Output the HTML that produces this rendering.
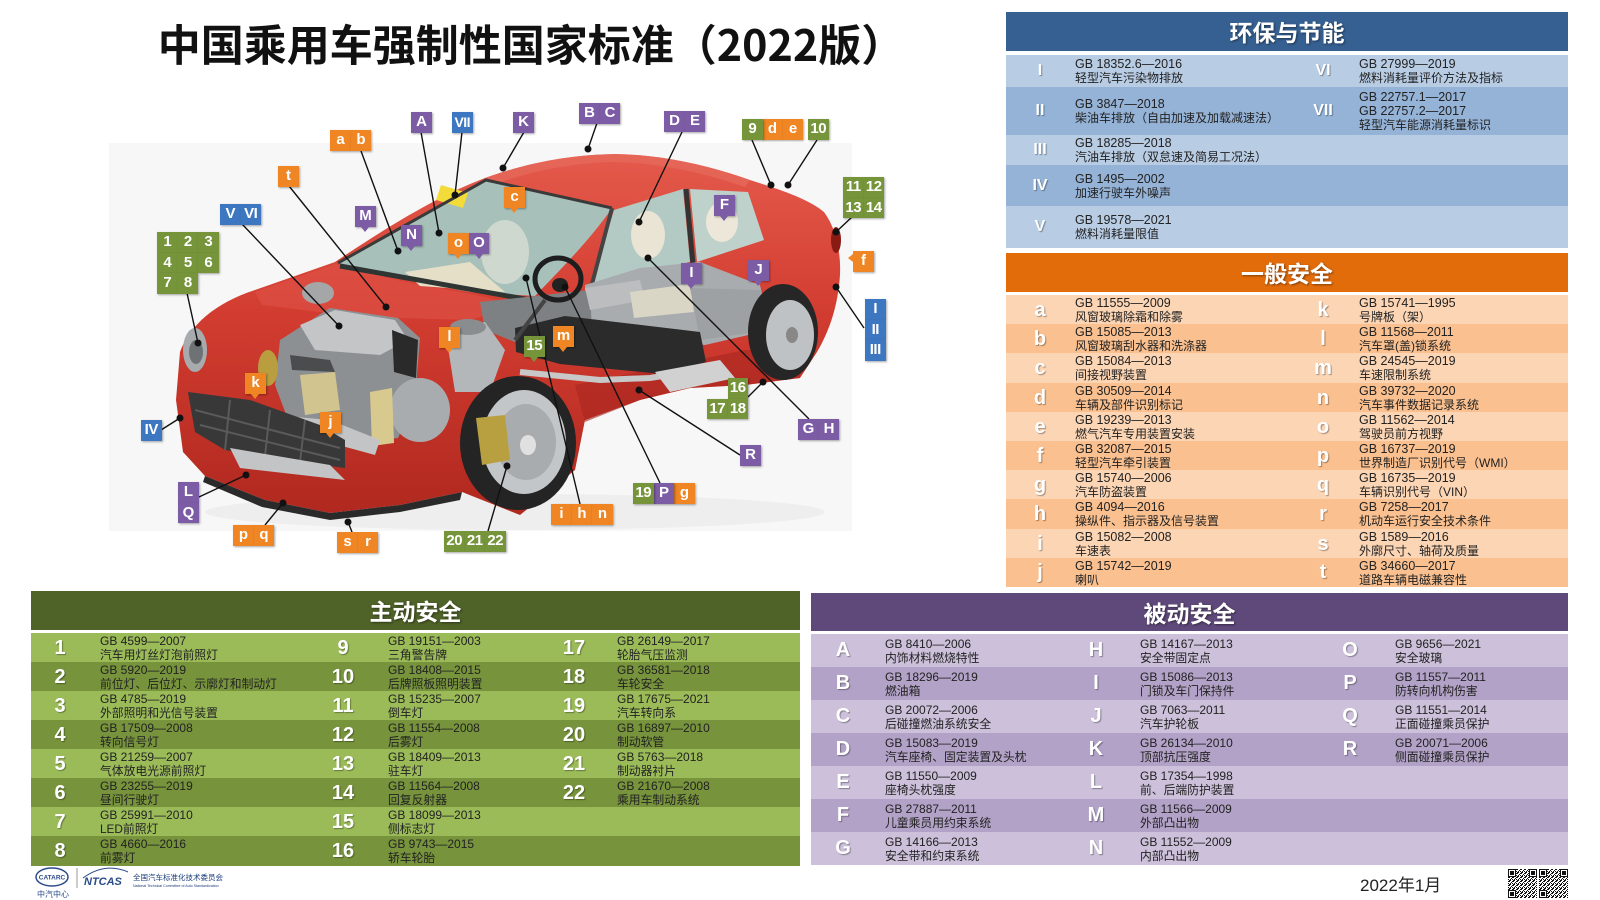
<!DOCTYPE html>
<html><head><meta charset="utf-8">
<style>
*{margin:0;padding:0;box-sizing:border-box}
body{width:1600px;height:900px;background:#fff;position:relative;overflow:hidden;font-family:"Liberation Sans","Noto Sans CJK SC",sans-serif}
.title{position:absolute;left:8px;top:18px;width:1046px;text-align:center;font:bold 43px/50px "Noto Sans CJK SC",sans-serif;color:#111;white-space:nowrap}
.pn{position:absolute}
.hd{position:absolute;left:0;width:100%;color:#fff;font:bold 23px/1 "Noto Sans CJK SC",sans-serif;display:flex;align-items:center;justify-content:center;text-shadow:1px 1px 2px rgba(0,0,0,.45)}
.r{position:absolute;left:0;width:100%}
.k{position:absolute;top:0;bottom:0;width:50px;display:flex;align-items:center;justify-content:center;color:#fff;font-weight:bold;font-family:"Liberation Sans",sans-serif;text-shadow:1px 1px 1px rgba(0,0,0,.35)}
.t{position:absolute;top:0;bottom:0;display:flex;flex-direction:column;justify-content:center;font-size:12px;line-height:14px;color:#222;white-space:nowrap;font-family:"Liberation Sans","Noto Sans CJK SC",sans-serif}
.t span{font-size:11.8px}
.bl .k{font-size:16px}
.bl .t,.or .t{font-size:12.5px}
.bl .t span,.or .t span{font-size:12px}
.or .k,.gr .k,.pu .k{font-size:20px}
.tg{position:absolute;width:20.5px;height:20.5px;color:#fff;font:bold 15px/20.5px "Liberation Sans",sans-serif;text-align:center;box-shadow:1px 1px 2px rgba(0,0,0,.35);z-index:5;letter-spacing:-0.5px}
.o{background:#ef8523}.g{background:#76953b}.p{background:#7d5ca6}.b{background:#3d77c1}
.pd::after{content:"";position:absolute;left:6px;bottom:-5px;border-left:4px solid transparent;border-right:4px solid transparent;border-top:5px solid #ef8523}
.p.pd::after{border-top-color:#7d5ca6}.g.pd::after{border-top-color:#76953b}
.pl::after{content:"";position:absolute;left:-5px;top:3px;border-top:4px solid transparent;border-bottom:4px solid transparent;border-right:5px solid #ef8523}
</style></head><body>

<div class="title">中国乘用车强制性国家标准（2022版）</div>

<svg width="1600" height="900" style="position:absolute;left:0;top:0">
<defs>
<linearGradient id="rg" x1="0" y1="0" x2="0" y2="1"><stop offset="0" stop-color="#e45a4c"/><stop offset=".45" stop-color="#d23c30"/><stop offset="1" stop-color="#b0281f"/></linearGradient>
<pattern id="qp" width="4" height="4" patternUnits="userSpaceOnUse"><rect width="4" height="4" fill="#fff"/><rect x="0" y="0" width="2" height="1" fill="#111"/><rect x="2" y="2" width="1" height="2" fill="#111"/><rect x="1" y="3" width="1" height="1" fill="#111"/><rect x="3" y="1" width="1" height="1" fill="#111"/><rect x="0" y="2" width="1" height="1" fill="#111"/></pattern>
</defs>
<rect x="109" y="143" width="743" height="388" fill="#f7f7f7"/>
<ellipse cx="515" cy="512" rx="310" ry="18" fill="#eeeeee"/>
<!-- body -->
<path fill="url(#rg)" d="M180,352 C190,325 215,303 255,290 L335,262 C390,225 440,195 485,178 C530,162 570,155 615,154 C665,155 710,166 750,180 C785,191 810,200 824,212 C836,228 841,252 840,275 C838,305 830,330 817,352 L800,378 L745,385 L690,388 L640,400 L585,420 L575,470 L520,515 L462,492 L400,505 L330,513 L265,500 L205,476 L183,452 L176,400 Z"/>
<path fill="#e66b5d" opacity=".7" d="M485,178 C530,162 570,155 615,154 C665,155 710,166 750,180 L745,187 C705,173 660,163 615,162 C570,163 530,171 490,186 Z"/>
<path fill="#a9261f" opacity=".6" d="M575,385 L745,350 L800,350 L800,378 L745,385 L690,388 L640,400 L585,422 Z"/>
<path fill="#df5246" opacity=".6" d="M255,292 L335,264 L405,282 L470,294 L520,305 L470,320 L400,318 L320,312 L262,305 Z"/>
<ellipse cx="836" cy="240" rx="5" ry="13" fill="#8a1a14"/>
<!-- windows -->
<path fill="#a7c0ba" d="M338,263 L486,180 L612,208 C590,240 560,270 535,296 L470,292 L405,280 Z"/>
<path fill="#e6dfc8" d="M405,272 L470,262 L505,292 L420,286 Z"/>
<ellipse cx="505" cy="252" rx="24" ry="32" fill="#cfd8cf"/>
<path fill="#f3dc3a" d="M441,185 L468,193 L463,208 L436,200 Z"/>
<path d="M340,266 L530,300" stroke="#2e3533" stroke-width="5"/>
<path d="M338,263 L486,180 L612,208" stroke="#3a3a3a" stroke-width="3" fill="none"/>
<path fill="#b3cac4" d="M614,210 L683,189 L690,262 L592,283 Z"/>
<ellipse cx="648" cy="235" rx="17" ry="24" fill="#e9e4d4"/>
<path fill="#bed1cb" d="M690,189 L748,192 L764,240 L697,262 Z"/>
<ellipse cx="722" cy="222" rx="16" ry="20" fill="#ece7d8"/>
<path d="M686,189 L693,264" stroke="#333" stroke-width="5"/>
<path d="M612,208 L592,284" stroke="#444" stroke-width="4"/>
<!-- mid mechanical cutaway -->
<path fill="#a9acae" d="M585,285 L640,268 L700,262 L760,285 L770,330 L705,345 L640,335 L585,320 Z"/>
<path fill="#7e8183" d="M480,302 L590,290 L592,332 L515,342 L485,330 Z"/>
<!-- engine -->
<ellipse cx="318" cy="293" rx="16" ry="11" fill="#a4a6a8"/>
<path fill="#8d9092" d="M280,340 L330,308 L398,318 L420,338 L415,400 L398,438 L335,445 L290,425 L275,385 Z"/>
<path fill="#c3c5c7" d="M300,325 L335,310 L395,320 L408,340 L380,355 L315,350 Z"/>
<path fill="#2a2a2a" d="M392,330 L418,340 L416,378 L394,372 Z"/>
<path fill="#4a4c4e" d="M290,355 L330,360 L335,372 L292,370 Z"/>
<path fill="#d2c48e" d="M300,375 L335,372 L340,410 L305,415 Z"/>
<ellipse cx="268" cy="368" rx="10" ry="18" fill="#b99d3e"/>
<ellipse cx="420" cy="410" rx="30" ry="32" fill="#a9acae"/>
<path fill="#d8ca8f" d="M370,392 L392,388 L394,443 L372,446 Z"/>
<path fill="#b4b7b9" d="M445,328 L485,322 L505,350 L490,392 L455,392 Z"/>
<ellipse cx="468" cy="327" rx="18" ry="8" fill="#8a8d8f"/>
<path fill="#c2c4c6" d="M215,410 L330,420 L380,440 L375,455 L320,440 L212,425 Z"/>
<!-- grille -->
<path fill="#383838" d="M188,392 L250,400 L320,425 L345,440 L345,468 L300,462 L225,450 L195,432 Z"/>
<path d="M195,410 L340,448 M200,425 L340,460 M230,400 L225,450 M270,410 L265,456 M305,420 L300,462" stroke="#5a5a5a" stroke-width="2"/>
<path fill="#c2c4c6" d="M230,448 L330,465 L345,480 L240,468 Z"/>
<path fill="#2a2a2a" d="M205,476 L265,500 L330,513 L400,505 L462,492 L460,500 L400,512 L330,520 L262,507 L203,482 Z"/>
<ellipse cx="195" cy="350" rx="12" ry="22" fill="#a7abae"/>
<ellipse cx="196" cy="352" rx="7" ry="12" fill="#6e7275"/>
<!-- chassis -->
<path fill="#bbbdbf" d="M585,288 L640,280 L645,300 L590,310 Z"/>
<path fill="#d9d6c6" d="M630,292 L690,284 L694,312 L634,318 Z"/>
<path fill="#9ea1a3" d="M690,288 L760,290 L770,330 L700,340 Z"/>
<path fill="#2b2b2b" d="M515,328 L565,316 L700,332 L706,362 L662,374 L560,364 L516,352 Z"/>
<path d="M520,372 L600,380 L650,378 L700,370" stroke="#c8c8c8" stroke-width="6" fill="none"/>
<path fill="#d1d1d1" d="M655,372 L720,360 L735,378 L670,392 Z"/>
<path d="M545,300 L515,340" stroke="#444" stroke-width="4"/>
<ellipse cx="558" cy="279" rx="23" ry="21" stroke="#1e1e1e" stroke-width="5" fill="none"/>
<ellipse cx="560" cy="285" rx="8" ry="7" fill="#222"/>
<!-- wheels -->
<ellipse cx="518" cy="443" rx="58" ry="67" fill="#242424"/>
<ellipse cx="524" cy="442" rx="42" ry="52" fill="#c3c6c8"/>
<ellipse cx="526" cy="442" rx="30" ry="38" fill="#a9acae"/>
<ellipse cx="528" cy="445" rx="8" ry="10" fill="#e0e0e0"/>
<path fill="#b8a040" d="M476,418 L505,415 L510,460 L482,465 Z"/>
<ellipse cx="783" cy="332" rx="35" ry="48" fill="#262626"/>
<ellipse cx="790" cy="335" rx="24" ry="35" fill="#bfc2c4"/>
<ellipse cx="792" cy="335" rx="6" ry="8" fill="#888"/>
<!-- leader lines -->
<g stroke="#111" stroke-width="1.4">
<path d="M361,151L398,251M421,132L439,233M462,132L455,195M524,132L503,168M597,123L588,149M682,132L639,222M752,140L771,185M817,140L788,185M852,217L836,232M864,328L836,287M289,186L386,307M242,224L339,326M187,293L198,343M161,430L180,418M199,497L246,475M265,525L283,503M352,532L348,522M488,531L507,466M580,504L526,278M660,483L565,287M740,455L639,390M809,419L648,258M748,397L763,382"/>
</g>
<g fill="#111">
<circle cx="398" cy="251" r="3.5"/><circle cx="439" cy="233" r="3.5"/><circle cx="455" cy="195" r="3.5"/><circle cx="503" cy="168" r="3.5"/><circle cx="588" cy="149" r="3.5"/><circle cx="639" cy="222" r="3.5"/><circle cx="771" cy="185" r="3.5"/><circle cx="788" cy="185" r="3.5"/><circle cx="836" cy="232" r="3.5"/><circle cx="836" cy="287" r="3.5"/><circle cx="386" cy="307" r="3.5"/><circle cx="339" cy="326" r="3.5"/><circle cx="198" cy="343" r="3.5"/><circle cx="180" cy="418" r="3.5"/><circle cx="246" cy="475" r="3.5"/><circle cx="283" cy="503" r="3.5"/><circle cx="348" cy="522" r="3.5"/><circle cx="507" cy="466" r="3.5"/><circle cx="526" cy="278" r="3.5"/><circle cx="565" cy="287" r="3.5"/><circle cx="639" cy="390" r="3.5"/><circle cx="648" cy="258" r="3.5"/><circle cx="763" cy="382" r="3.5"/>
</g>
<!-- footer logos -->
<ellipse cx="52" cy="877" rx="16" ry="9" fill="none" stroke="#2a4a8a" stroke-width="1.5"/>
<text x="52" y="879.5" font-size="6.5" font-family="Liberation Sans" font-weight="bold" fill="#2a4a8a" text-anchor="middle">CATARC</text>
<text x="53" y="897" font-size="8" font-family="Noto Sans CJK SC" fill="#2a4a8a" text-anchor="middle">中汽中心</text>
<line x1="77" y1="868" x2="77" y2="888" stroke="#999" stroke-width="1"/>
<path d="M83,878 Q105,862 128,872" stroke="#2a4a8a" stroke-width="1" fill="none"/>
<text x="84" y="885" font-size="11" font-family="Liberation Sans" font-style="italic" font-weight="bold" fill="#2a4a8a">NTCAS</text>
<text x="133" y="880" font-size="7.5" font-family="Noto Sans CJK SC" fill="#1a3a7a">全国汽车标准化技术委员会</text>
<text x="133" y="887" font-size="3.6" font-family="Liberation Sans" fill="#1a3a7a">National Technical Committee of Auto Standardization</text>
<g transform="translate(1508,869)"><rect width="29" height="29" fill="url(#qp)"/><rect width="8" height="8" fill="#111"/><rect x="1" y="1" width="6" height="6" fill="#fff"/><rect x="2" y="2" width="4" height="4" fill="#111"/><rect x="21" width="8" height="8" fill="#111"/><rect x="22" y="1" width="6" height="6" fill="#fff"/><rect x="23" y="2" width="4" height="4" fill="#111"/><rect y="21" width="8" height="8" fill="#111"/><rect x="1" y="22" width="6" height="6" fill="#fff"/><rect x="2" y="23" width="4" height="4" fill="#111"/></g>
<g transform="translate(1539,869)"><rect width="29" height="29" fill="url(#qp)"/><rect width="8" height="8" fill="#111"/><rect x="1" y="1" width="6" height="6" fill="#fff"/><rect x="2" y="2" width="4" height="4" fill="#111"/><rect x="21" width="8" height="8" fill="#111"/><rect x="22" y="1" width="6" height="6" fill="#fff"/><rect x="23" y="2" width="4" height="4" fill="#111"/><rect y="21" width="8" height="8" fill="#111"/><rect x="1" y="22" width="6" height="6" fill="#fff"/><rect x="2" y="23" width="4" height="4" fill="#111"/></g>
<text x="1360" y="891" font-size="17" font-family="Liberation Sans, Noto Sans CJK SC" fill="#222">2022年1月</text>
</svg>

<!-- tags -->
<div class="tg o" style="left:330px;top:130px">a</div><div class="tg o" style="left:350.5px;top:130px">b</div>
<div class="tg o" style="left:278px;top:166px">t</div>
<div class="tg o pd" style="left:448px;top:233px">o</div>
<div class="tg o pd" style="left:504px;top:187px">c</div>
<div class="tg o" style="left:762px;top:119px">d</div><div class="tg o" style="left:782.5px;top:119px">e</div>
<div class="tg o pl" style="left:853px;top:251px">f</div>
<div class="tg o pd" style="left:439px;top:327px">l</div>
<div class="tg o pd" style="left:553px;top:326px">m</div>
<div class="tg o pd" style="left:245px;top:373px">k</div>
<div class="tg o pd" style="left:320px;top:412px">j</div>
<div class="tg o" style="left:233px;top:525px">p</div><div class="tg o" style="left:253.5px;top:525px">q</div>
<div class="tg o" style="left:337px;top:532px">s</div><div class="tg o" style="left:357.5px;top:532px">r</div>
<div class="tg o" style="left:551px;top:504px">i</div><div class="tg o" style="left:571.5px;top:504px">h</div><div class="tg o" style="left:592px;top:504px">n</div>
<div class="tg o" style="left:674px;top:483px">g</div>

<div class="tg p" style="left:411px;top:112px">A</div>
<div class="tg p pd" style="left:355px;top:206px">M</div>
<div class="tg p pd" style="left:401px;top:225px">N</div>
<div class="tg p pd" style="left:468.5px;top:233px">O</div>
<div class="tg p" style="left:513px;top:112px">K</div>
<div class="tg p" style="left:579px;top:103px">B</div><div class="tg p" style="left:599.5px;top:103px">C</div>
<div class="tg p" style="left:664px;top:111px">D</div><div class="tg p" style="left:684.5px;top:111px">E</div>
<div class="tg p pd" style="left:714px;top:195px">F</div>
<div class="tg p pd" style="left:681px;top:263px">I</div>
<div class="tg p pd" style="left:748px;top:260px">J</div>
<div class="tg p" style="left:178px;top:482px">L</div><div class="tg p" style="left:178px;top:502.5px">Q</div>
<div class="tg p" style="left:740px;top:445px">R</div>
<div class="tg p" style="left:798px;top:419px">G</div><div class="tg p" style="left:818.5px;top:419px">H</div>
<div class="tg p" style="left:653.5px;top:483px">P</div>

<div class="tg b" style="left:452px;top:112px;font-size:14px">VII</div>
<div class="tg b" style="left:220px;top:204px">V</div><div class="tg b" style="left:240.5px;top:204px">VI</div>
<div class="tg b" style="left:141px;top:420px">IV</div>
<div class="tg b" style="left:865px;top:299px">I</div><div class="tg b" style="left:865px;top:319.5px">II</div><div class="tg b" style="left:865px;top:340px">III</div>

<div class="tg g" style="left:157px;top:232px">1</div><div class="tg g" style="left:177.5px;top:232px">2</div><div class="tg g" style="left:198px;top:232px">3</div>
<div class="tg g" style="left:157px;top:252.5px">4</div><div class="tg g" style="left:177.5px;top:252.5px">5</div><div class="tg g" style="left:198px;top:252.5px">6</div>
<div class="tg g" style="left:157px;top:273px">7</div><div class="tg g" style="left:177.5px;top:273px">8</div>
<div class="tg g" style="left:742px;top:119px">9</div><div class="tg g" style="left:808px;top:119px">10</div>
<div class="tg g" style="left:843px;top:177px">11</div><div class="tg g" style="left:863.5px;top:177px">12</div>
<div class="tg g" style="left:843px;top:197.5px">13</div><div class="tg g" style="left:863.5px;top:197.5px">14</div>
<div class="tg g pd" style="left:524px;top:336px">15</div>
<div class="tg g" style="left:727.5px;top:378px">16</div><div class="tg g" style="left:707px;top:398.5px">17</div><div class="tg g" style="left:727.5px;top:398.5px">18</div>
<div class="tg g" style="left:633px;top:483px">19</div>
<div class="tg g" style="left:444px;top:531px">20</div><div class="tg g" style="left:464.5px;top:531px">21</div><div class="tg g" style="left:485px;top:531px">22</div>

<!-- 环保与节能 -->
<div class="pn bl" style="left:1006px;top:0;width:562px;height:250px">
<div class="hd" style="top:12px;height:39px;background:#366092">环保与节能</div>
<div class="r" style="top:55px;height:32px;background:#b8cce4"><div class="k" style="left:9px">I</div><div class="t" style="left:69px">GB 18352.6—2016<span>轻型汽车污染物排放</span></div><div class="k" style="left:292px">VI</div><div class="t" style="left:353px">GB 27999—2019<span>燃料消耗量评价方法及指标</span></div></div>
<div class="r" style="top:87px;height:48px;background:#95b3d7"><div class="k" style="left:9px">II</div><div class="t" style="left:69px">GB 3847—2018<span>柴油车排放（自由加速及加载减速法）</span></div><div class="k" style="left:292px">VII</div><div class="t" style="left:353px">GB 22757.1—2017<span style="font-size:12.5px">GB 22757.2—2017</span><span>轻型汽车能源消耗量标识</span></div></div>
<div class="r" style="top:135px;height:30px;background:#b8cce4"><div class="k" style="left:9px">III</div><div class="t" style="left:69px">GB 18285—2018<span>汽油车排放（双怠速及简易工况法）</span></div></div>
<div class="r" style="top:165px;height:41px;background:#95b3d7"><div class="k" style="left:9px">IV</div><div class="t" style="left:69px">GB 1495—2002<span>加速行驶车外噪声</span></div></div>
<div class="r" style="top:206px;height:42px;background:#b8cce4"><div class="k" style="left:9px">V</div><div class="t" style="left:69px">GB 19578—2021<span>燃料消耗量限值</span></div></div>
</div>

<!-- 一般安全 -->
<div class="pn or" style="left:1006px;top:253px;width:562px;height:334px">
<div class="hd" style="top:0;height:39px;background:#e36c0a">一般安全</div>
<div class="r" style="top:42px;height:30px;background:#fcd5b4"><div class="k" style="left:9px">a</div><div class="t" style="left:69px">GB 11555—2009<span>风窗玻璃除霜和除雾</span></div><div class="k" style="left:292px">k</div><div class="t" style="left:353px">GB 15741—1995<span>号牌板（架）</span></div></div>
<div class="r" style="top:71px;height:30px;background:#fac08f"><div class="k" style="left:9px">b</div><div class="t" style="left:69px">GB 15085—2013<span>风窗玻璃刮水器和洗涤器</span></div><div class="k" style="left:292px">l</div><div class="t" style="left:353px">GB 11568—2011<span>汽车罩(盖)锁系统</span></div></div>
<div class="r" style="top:100px;height:30px;background:#fcd5b4"><div class="k" style="left:9px">c</div><div class="t" style="left:69px">GB 15084—2013<span>间接视野装置</span></div><div class="k" style="left:292px">m</div><div class="t" style="left:353px">GB 24545—2019<span>车速限制系统</span></div></div>
<div class="r" style="top:130px;height:30px;background:#fac08f"><div class="k" style="left:9px">d</div><div class="t" style="left:69px">GB 30509—2014<span>车辆及部件识别标记</span></div><div class="k" style="left:292px">n</div><div class="t" style="left:353px">GB 39732—2020<span>汽车事件数据记录系统</span></div></div>
<div class="r" style="top:159px;height:30px;background:#fcd5b4"><div class="k" style="left:9px">e</div><div class="t" style="left:69px">GB 19239—2013<span>燃气汽车专用装置安装</span></div><div class="k" style="left:292px">o</div><div class="t" style="left:353px">GB 11562—2014<span>驾驶员前方视野</span></div></div>
<div class="r" style="top:188px;height:30px;background:#fac08f"><div class="k" style="left:9px">f</div><div class="t" style="left:69px">GB 32087—2015<span>轻型汽车牵引装置</span></div><div class="k" style="left:292px">p</div><div class="t" style="left:353px">GB 16737—2019<span>世界制造厂识别代号（WMI）</span></div></div>
<div class="r" style="top:217px;height:30px;background:#fcd5b4"><div class="k" style="left:9px">g</div><div class="t" style="left:69px">GB 15740—2006<span>汽车防盗装置</span></div><div class="k" style="left:292px">q</div><div class="t" style="left:353px">GB 16735—2019<span>车辆识别代号（VIN）</span></div></div>
<div class="r" style="top:246px;height:30px;background:#fac08f"><div class="k" style="left:9px">h</div><div class="t" style="left:69px">GB 4094—2016<span>操纵件、指示器及信号装置</span></div><div class="k" style="left:292px">r</div><div class="t" style="left:353px">GB 7258—2017<span>机动车运行安全技术条件</span></div></div>
<div class="r" style="top:276px;height:30px;background:#fcd5b4"><div class="k" style="left:9px">i</div><div class="t" style="left:69px">GB 15082—2008<span>车速表</span></div><div class="k" style="left:292px">s</div><div class="t" style="left:353px">GB 1589—2016<span>外廓尺寸、轴荷及质量</span></div></div>
<div class="r" style="top:305px;height:29px;background:#fac08f"><div class="k" style="left:9px">j</div><div class="t" style="left:69px">GB 15742—2019<span>喇叭</span></div><div class="k" style="left:292px">t</div><div class="t" style="left:353px">GB 34660—2017<span>道路车辆电磁兼容性</span></div></div>
</div>

<!-- 主动安全 -->
<div class="pn gr" style="left:31px;top:591px;width:769px;height:275px">
<div class="hd" style="top:0;height:39px;background:#4f6228">主动安全</div>
<div class="r" style="top:42px;height:30px;background:#9bbb59"><div class="k" style="left:4px">1</div><div class="t" style="left:69px">GB 4599—2007<span>汽车用灯丝灯泡前照灯</span></div><div class="k" style="left:287px">9</div><div class="t" style="left:357px">GB 19151—2003<span>三角警告牌</span></div><div class="k" style="left:518px">17</div><div class="t" style="left:586px">GB 26149—2017<span>轮胎气压监测</span></div></div>
<div class="r" style="top:71px;height:30px;background:#77933c"><div class="k" style="left:4px">2</div><div class="t" style="left:69px">GB 5920—2019<span>前位灯、后位灯、示廓灯和制动灯</span></div><div class="k" style="left:287px">10</div><div class="t" style="left:357px">GB 18408—2015<span>后牌照板照明装置</span></div><div class="k" style="left:518px">18</div><div class="t" style="left:586px">GB 36581—2018<span>车轮安全</span></div></div>
<div class="r" style="top:100px;height:30px;background:#9bbb59"><div class="k" style="left:4px">3</div><div class="t" style="left:69px">GB 4785—2019<span>外部照明和光信号装置</span></div><div class="k" style="left:287px">11</div><div class="t" style="left:357px">GB 15235—2007<span>倒车灯</span></div><div class="k" style="left:518px">19</div><div class="t" style="left:586px">GB 17675—2021<span>汽车转向系</span></div></div>
<div class="r" style="top:129px;height:30px;background:#77933c"><div class="k" style="left:4px">4</div><div class="t" style="left:69px">GB 17509—2008<span>转向信号灯</span></div><div class="k" style="left:287px">12</div><div class="t" style="left:357px">GB 11554—2008<span>后雾灯</span></div><div class="k" style="left:518px">20</div><div class="t" style="left:586px">GB 16897—2010<span>制动软管</span></div></div>
<div class="r" style="top:158px;height:30px;background:#9bbb59"><div class="k" style="left:4px">5</div><div class="t" style="left:69px">GB 21259—2007<span>气体放电光源前照灯</span></div><div class="k" style="left:287px">13</div><div class="t" style="left:357px">GB 18409—2013<span>驻车灯</span></div><div class="k" style="left:518px">21</div><div class="t" style="left:586px">GB 5763—2018<span>制动器衬片</span></div></div>
<div class="r" style="top:187px;height:30px;background:#77933c"><div class="k" style="left:4px">6</div><div class="t" style="left:69px">GB 23255—2019<span>昼间行驶灯</span></div><div class="k" style="left:287px">14</div><div class="t" style="left:357px">GB 11564—2008<span>回复反射器</span></div><div class="k" style="left:518px">22</div><div class="t" style="left:586px">GB 21670—2008<span>乘用车制动系统</span></div></div>
<div class="r" style="top:216px;height:30px;background:#9bbb59"><div class="k" style="left:4px">7</div><div class="t" style="left:69px">GB 25991—2010<span>LED前照灯</span></div><div class="k" style="left:287px">15</div><div class="t" style="left:357px">GB 18099—2013<span>侧标志灯</span></div></div>
<div class="r" style="top:245px;height:30px;background:#77933c"><div class="k" style="left:4px">8</div><div class="t" style="left:69px">GB 4660—2016<span>前雾灯</span></div><div class="k" style="left:287px">16</div><div class="t" style="left:357px">GB 9743—2015<span>轿车轮胎</span></div></div>
</div>

<!-- 被动安全 -->
<div class="pn pu" style="left:811px;top:593px;width:757px;height:272px">
<div class="hd" style="top:0;height:38px;background:#5f497a">被动安全</div>
<div class="r" style="top:41px;height:33px;background:#ccc0da"><div class="k" style="left:7px">A</div><div class="t" style="left:74px">GB 8410—2006<span>内饰材料燃烧特性</span></div><div class="k" style="left:260px">H</div><div class="t" style="left:329px">GB 14167—2013<span>安全带固定点</span></div><div class="k" style="left:514px">O</div><div class="t" style="left:584px">GB 9656—2021<span>安全玻璃</span></div></div>
<div class="r" style="top:74px;height:33px;background:#b2a2c7"><div class="k" style="left:7px">B</div><div class="t" style="left:74px">GB 18296—2019<span>燃油箱</span></div><div class="k" style="left:260px">I</div><div class="t" style="left:329px">GB 15086—2013<span>门锁及车门保持件</span></div><div class="k" style="left:514px">P</div><div class="t" style="left:584px">GB 11557—2011<span>防转向机构伤害</span></div></div>
<div class="r" style="top:107px;height:33px;background:#ccc0da"><div class="k" style="left:7px">C</div><div class="t" style="left:74px">GB 20072—2006<span>后碰撞燃油系统安全</span></div><div class="k" style="left:260px">J</div><div class="t" style="left:329px">GB 7063—2011<span>汽车护轮板</span></div><div class="k" style="left:514px">Q</div><div class="t" style="left:584px">GB 11551—2014<span>正面碰撞乘员保护</span></div></div>
<div class="r" style="top:140px;height:33px;background:#b2a2c7"><div class="k" style="left:7px">D</div><div class="t" style="left:74px">GB 15083—2019<span>汽车座椅、固定装置及头枕</span></div><div class="k" style="left:260px">K</div><div class="t" style="left:329px">GB 26134—2010<span>顶部抗压强度</span></div><div class="k" style="left:514px">R</div><div class="t" style="left:584px">GB 20071—2006<span>侧面碰撞乘员保护</span></div></div>
<div class="r" style="top:173px;height:33px;background:#ccc0da"><div class="k" style="left:7px">E</div><div class="t" style="left:74px">GB 11550—2009<span>座椅头枕强度</span></div><div class="k" style="left:260px">L</div><div class="t" style="left:329px">GB 17354—1998<span>前、后端防护装置</span></div></div>
<div class="r" style="top:206px;height:33px;background:#b2a2c7"><div class="k" style="left:7px">F</div><div class="t" style="left:74px">GB 27887—2011<span>儿童乘员用约束系统</span></div><div class="k" style="left:260px">M</div><div class="t" style="left:329px">GB 11566—2009<span>外部凸出物</span></div></div>
<div class="r" style="top:239px;height:33px;background:#ccc0da"><div class="k" style="left:7px">G</div><div class="t" style="left:74px">GB 14166—2013<span>安全带和约束系统</span></div><div class="k" style="left:260px">N</div><div class="t" style="left:329px">GB 11552—2009<span>内部凸出物</span></div></div>
</div>

</body></html>
